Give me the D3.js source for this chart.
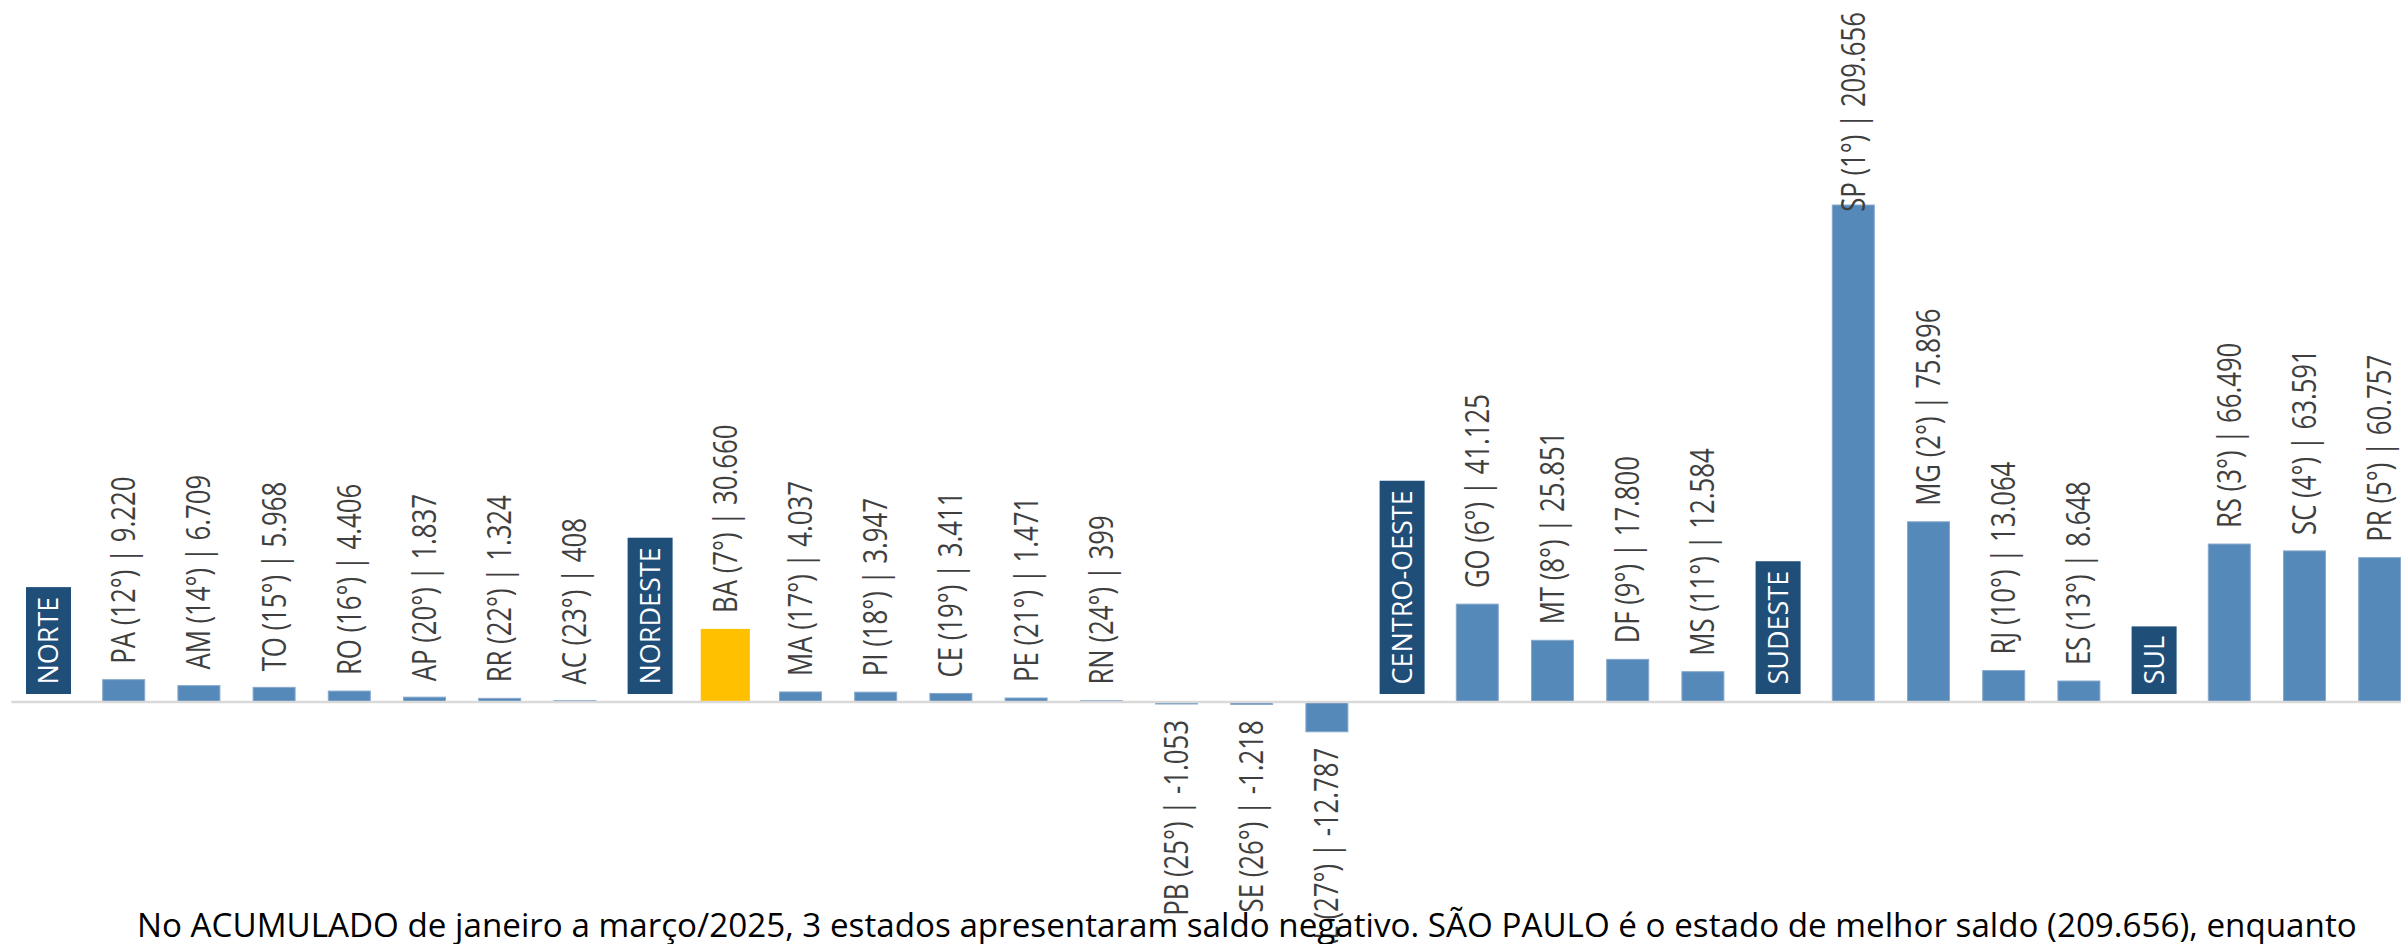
<!DOCTYPE html>
<html><head><meta charset="utf-8">
<script src="https://cdn.jsdelivr.net/npm/d3@7"></script>
<style>html,body{margin:0;padding:0;background:#fff;} svg{display:block;}</style>
</head><body>
<svg id="chart" width="2401" height="944"></svg>
<script>
// ---- data ----
const categories = ["NORTE","PA","AM","TO","RO","AP","RR","AC",
  "NORDESTE","BA","MA","PI","CE","PE","RN","PB","SE","AL",
  "CENTRO-OESTE","GO","MT","DF","MS",
  "SUDESTE","SP","MG","RJ","ES",
  "SUL","RS","SC","PR"];
const regionNames = ["NORTE","NORDESTE","CENTRO-OESTE","SUDESTE","SUL"];
const ranks = [null,12,14,15,16,20,22,23,
  null,7,17,18,19,21,24,25,26,27,
  null,6,8,9,11,
  null,1,2,10,13,
  null,3,4,5];
const values = [null,9220,6709,5968,4406,1837,1324,408,
  null,30660,4037,3947,3411,1471,399,-1053,-1218,-12787,
  null,41125,25851,17800,12584,
  null,209656,75896,13064,8648,
  null,66490,63591,60757];
const highlightState = "BA";
const caption = "No ACUMULADO de janeiro a março/2025, 3 estados apresentaram saldo negativo. SÃO PAULO é o estado de melhor saldo (209.656), enquanto";

// ---- setup ----
const W = 2401, H = 944;
const FONT = "'Open Sans', 'Noto Sans', sans-serif";
const svg = d3.select("#chart");
svg.append("rect").attr("width", W).attr("height", H).attr("fill", "#fff");

const n = categories.length;
const step = 75.2, r0 = 10.9;
const x = d3.scaleBand().domain(categories)
  .range([r0, r0 + n * step]).paddingInner(0.4415).paddingOuter(0.4415 / 2);
const y = d3.scaleLinear().domain([-100000, 250000]).range([938.3, 109.5]);

const fmt = d3.formatLocale({decimal: ",", thousands: ".", grouping: [3], currency: ["R$", ""], minus: "-"}).format(",d");

const rows = categories.map((c, i) => ({cat: c, rank: ranks[i], value: values[i], region: regionNames.includes(c)}));
const states = rows.filter(d => !d.region);
const regions = rows.filter(d => d.region);

// bars
const barW = d => d.cat === highlightState ? x.bandwidth() * 1.17 : x.bandwidth();
svg.append("g").selectAll("rect").data(states).join("rect")
  .attr("x", d => x(d.cat) + x.bandwidth() / 2 - barW(d) / 2)
  .attr("y", d => Math.min(y(d.value), y(0)))
  .attr("width", d => barW(d))
  .attr("height", d => Math.abs(y(d.value) - y(0)))
  .attr("fill", d => d.cat === highlightState ? "#FFC000" : "#5589B9")
  .attr("stroke", d => d.cat === highlightState ? "none" : "#86a9cc")
  .attr("stroke-width", 1);

// baseline axis
const axisG = svg.append("g").attr("transform", `translate(0,${y(0)})`)
  .call(d3.axisBottom(x).tickSize(0).tickFormat(""));
axisG.select(".domain").attr("stroke", "#d9d9d9").attr("stroke-width", 2.5);

// value labels
const SCALE = 0.78, GAP = 16, TOPLIM = 12;
const lab = svg.append("g").attr("font-family", FONT).attr("font-size", 33).attr("fill", "#3f3f3f");
states.forEach(d => {
  const cx = x(d.cat) + x.bandwidth() / 2;
  const g = lab.append("g");
  const t = g.append("text").attr("dy", "0.35em")
    .text(`${d.cat} (${d.rank}°) | ${fmt(d.value)}`);
  const len = t.node().getComputedTextLength() * SCALE;
  let ty;
  if (d.value >= 0) {
    ty = y(d.value) - GAP;
    if (ty - len < TOPLIM) ty = TOPLIM + len;
    t.attr("text-anchor", "start");
  } else {
    ty = y(d.value) + GAP;
    t.attr("text-anchor", "end");
  }
  g.attr("transform", `translate(${cx},${ty}) rotate(-90) scale(${SCALE},1)`);
});

// region boxes
const PAD = 9.5, BOXBOTTOM = y(0) - 7.5, BOXW = 45;
const rg = svg.append("g").attr("font-family", FONT).attr("font-size", 27);
regions.forEach(d => {
  const cx = x(d.cat) + x.bandwidth() / 2;
  const g = rg.append("g");
  const rect = g.append("rect").attr("fill", "#1F4E79");
  const t = g.append("text").attr("fill", "#fff").attr("text-anchor", "start")
    .attr("dy", "0.35em").text(d.cat);
  const len = t.node().getComputedTextLength();
  const h = len + 2 * PAD;
  rect.attr("x", cx - BOXW / 2).attr("y", BOXBOTTOM - h).attr("width", BOXW).attr("height", h);
  t.attr("transform", `translate(${cx},${BOXBOTTOM - PAD}) rotate(-90)`);
});

// caption
const cap = svg.append("text").attr("font-family", FONT).attr("font-size", 27)
  .attr("fill", "#000").attr("x", 137).attr("y", 937).text(caption);
const cl = cap.node().getComputedTextLength();
cap.attr("font-size", 27 * 2221 / cl);
</script>
</body></html>
